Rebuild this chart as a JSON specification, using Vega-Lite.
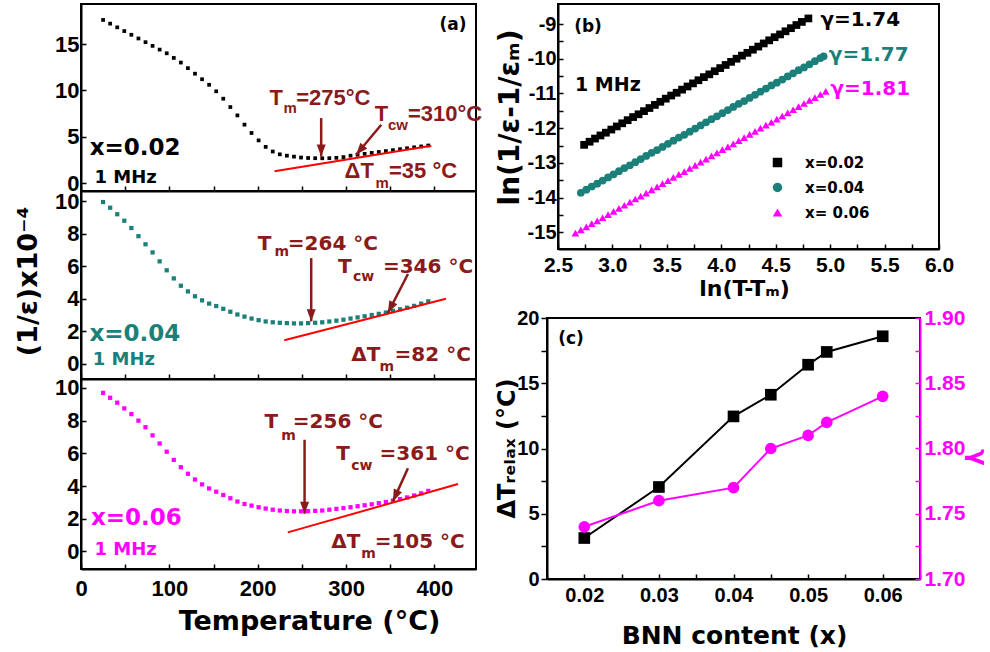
{
  "$schema": "https://vega.github.io/schema/vega-lite/v6.json",
  "background": "white",
  "padding": {"left": 12, "top": 3, "right": 5, "bottom": 5},
  "spacing": 10,
  "hconcat": [
    {
      "bounds": "flush",
      "spacing": 0,
      "vconcat": [
        {
          "width": 395, "height": 187,
          "encoding": {
            "x": {"field": "T", "type": "quantitative", "scale": {"domain": [0, 447], "nice": false, "zero": false},
                  "axis": {"values": [0, 50, 100, 150, 200, 250, 300, 350, 400], "labels": false, "tickSize": -5, "title": null}},
            "y": {"field": "v", "type": "quantitative", "scale": {"domain": [-0.86, 19.32], "nice": false, "zero": false},
                  "axis": {"values": [0, 5, 10, 15], "tickSize": -5, "labelPadding": 7, "labelFontSize": 22, "title": null}}
          },
          "layer": [
            {"data": {"values": [
              {"T":25,"v":17.6},{"T":33,"v":17.2},{"T":41,"v":16.8},{"T":49,"v":16.4},{"T":57,"v":16.0},{"T":65,"v":15.6},{"T":73,"v":15.2},{"T":81,"v":14.8},{"T":89,"v":14.4},{"T":97,"v":14.0},{"T":105,"v":13.5},{"T":113,"v":13.0},{"T":121,"v":12.4},{"T":129,"v":11.8},{"T":137,"v":11.2},{"T":145,"v":10.6},{"T":153,"v":9.9},{"T":161,"v":9.1},{"T":169,"v":8.2},{"T":177,"v":7.3},{"T":185,"v":6.3},{"T":193,"v":5.4},{"T":201,"v":4.6},{"T":209,"v":3.9},{"T":217,"v":3.4},{"T":225,"v":3.1},{"T":233,"v":2.95},{"T":241,"v":2.85},{"T":249,"v":2.75},{"T":257,"v":2.7},{"T":265,"v":2.68},{"T":273,"v":2.67},{"T":281,"v":2.68},{"T":289,"v":2.72},{"T":297,"v":2.8},{"T":305,"v":2.95},{"T":313,"v":3.05},{"T":321,"v":3.15},{"T":329,"v":3.25},{"T":337,"v":3.35},{"T":345,"v":3.45},{"T":353,"v":3.55},{"T":361,"v":3.65},{"T":369,"v":3.75},{"T":377,"v":3.85},{"T":385,"v":3.95},{"T":393,"v":4.05}
            ]},
             "mark": {"type": "point", "shape": "square", "filled": true, "size": 14, "color": "#000000", "opacity": 1}},
            {"data": {"values": [{"T": 219, "v": 1.26, "T2": 396.4, "v2": 4.03}]},
             "mark": {"type": "rule", "color": "#ff0000", "strokeWidth": 2},
             "encoding": {"x2": {"field": "T2"}, "y2": {"field": "v2"}}},
            {"data": {"name": "arrTop"},
             "mark": {"type": "rule", "color": "#8b1a1a", "strokeWidth": 2.5},
             "encoding": {"x2": {"field": "T2"}, "y2": {"field": "v2"}}},
            {"data": {"name": "arrTop"}, "transform": [{"filter": "datum.kind=='Tm'"}],
             "mark": {"type": "point", "shape": "M-0.75,-1L0.75,-1L0,1Z", "size": 144, "filled": true, "color": "#8b1a1a", "opacity": 1, "yOffset": -6}},
            {"data": {"name": "arrTop"}, "transform": [{"filter": "datum.kind=='Tcw'"}],
             "mark": {"type": "point", "shape": "M-0.75,-1L0.75,-1L0,1Z", "size": 144, "filled": true, "color": "#8b1a1a", "opacity": 1, "angle": 40, "xOffset": 3.8, "yOffset": -4.6}},
            {"data": {"name": "txtTop"}, "transform": [{"filter": "datum.role=='main'"}],
             "mark": {"type": "text", "align": "left", "baseline": "alphabetic", "font": "Liberation Sans", "fontSize": 22, "color": "#8b1a1a"},
             "encoding": {"text": {"field": "label"}}},
            {"data": {"name": "txtTop"}, "transform": [{"filter": "datum.role=='sub'"}],
             "mark": {"type": "text", "align": "left", "baseline": "alphabetic", "font": "Liberation Sans", "fontSize": 15, "color": "#8b1a1a"},
             "encoding": {"text": {"field": "label"}}},
            {"data": {"name": "txtTop"}, "transform": [{"filter": "datum.role=='label'"}],
             "mark": {"type": "text", "align": "left", "baseline": "alphabetic", "fontSize": 23, "color": "#000000"},
             "encoding": {"text": {"field": "label"}}},
            {"data": {"name": "txtTop"}, "transform": [{"filter": "datum.role=='freq'"}],
             "mark": {"type": "text", "align": "left", "baseline": "alphabetic", "fontSize": 18, "color": "#000000"},
             "encoding": {"text": {"field": "label"}}},
            {"data": {"name": "txtTop"}, "transform": [{"filter": "datum.role=='panel'"}],
             "mark": {"type": "text", "align": "center", "baseline": "middle", "fontSize": 17, "color": "#000000"},
             "encoding": {"text": {"field": "label"}}}
          ]
        },
        {
          "width": 395, "height": 188,
          "encoding": {
            "x": {"field": "T", "type": "quantitative", "scale": {"domain": [0, 447], "nice": false, "zero": false},
                  "axis": {"values": [0, 50, 100, 150, 200, 250, 300, 350, 400], "labels": false, "tickSize": -5, "title": null}},
            "y": {"field": "v", "type": "quantitative", "scale": {"domain": [-0.94, 10.63], "nice": false, "zero": false},
                  "axis": {"values": [0, 2, 4, 6, 8, 10], "tickSize": -5, "labelPadding": 7, "labelFontSize": 22,
                           "title": "(1/ε)x10⁻⁴", "titleFontSize": 27, "titleX": -53, "titleY": 90, "titleAngle": -90, "titleAlign": "center", "titleBaseline": "middle"}}
          },
          "layer": [
            {"data": {"values": [
              {"T":25,"v":9.95},{"T":33,"v":9.6},{"T":41,"v":9.2},{"T":49,"v":8.8},{"T":57,"v":8.35},{"T":65,"v":7.85},{"T":73,"v":7.35},{"T":81,"v":6.85},{"T":89,"v":6.3},{"T":97,"v":5.75},{"T":105,"v":5.25},{"T":113,"v":4.8},{"T":121,"v":4.45},{"T":129,"v":4.15},{"T":137,"v":3.9},{"T":145,"v":3.7},{"T":153,"v":3.55},{"T":161,"v":3.38},{"T":169,"v":3.2},{"T":177,"v":3.03},{"T":185,"v":2.9},{"T":193,"v":2.78},{"T":201,"v":2.68},{"T":209,"v":2.6},{"T":217,"v":2.55},{"T":225,"v":2.52},{"T":233,"v":2.5},{"T":241,"v":2.48},{"T":249,"v":2.48},{"T":257,"v":2.5},{"T":265,"v":2.52},{"T":273,"v":2.55},{"T":281,"v":2.6},{"T":289,"v":2.65},{"T":297,"v":2.71},{"T":305,"v":2.78},{"T":313,"v":2.85},{"T":321,"v":2.92},{"T":329,"v":3.0},{"T":337,"v":3.07},{"T":345,"v":3.15},{"T":353,"v":3.25},{"T":361,"v":3.35},{"T":369,"v":3.45},{"T":377,"v":3.56},{"T":385,"v":3.7},{"T":393,"v":3.84}
            ]},
             "mark": {"type": "point", "shape": "square", "filled": true, "size": 18, "color": "#1b7f7a", "opacity": 1}},
            {"data": {"values": [{"T": 230, "v": 1.44, "T2": 413, "v2": 4.0}]},
             "mark": {"type": "rule", "color": "#ff0000", "strokeWidth": 2},
             "encoding": {"x2": {"field": "T2"}, "y2": {"field": "v2"}}},
            {"data": {"name": "arrMid"},
             "mark": {"type": "rule", "color": "#8b1a1a", "strokeWidth": 2.5},
             "encoding": {"x2": {"field": "T2"}, "y2": {"field": "v2"}}},
            {"data": {"name": "arrMid"}, "transform": [{"filter": "datum.kind=='Tm'"}],
             "mark": {"type": "point", "shape": "M-0.75,-1L0.75,-1L0,1Z", "size": 144, "filled": true, "color": "#8b1a1a", "opacity": 1, "yOffset": -6}},
            {"data": {"name": "arrMid"}, "transform": [{"filter": "datum.kind=='Tcw'"}],
             "mark": {"type": "point", "shape": "M-0.75,-1L0.75,-1L0,1Z", "size": 144, "filled": true, "color": "#8b1a1a", "opacity": 1, "angle": 27, "xOffset": 2.7, "yOffset": -5.4}},
            {"data": {"name": "txtMid"}, "transform": [{"filter": "datum.role=='main'"}],
             "mark": {"type": "text", "align": "left", "baseline": "alphabetic", "fontSize": 20, "color": "#8b1a1a"},
             "encoding": {"text": {"field": "label"}}},
            {"data": {"name": "txtMid"}, "transform": [{"filter": "datum.role=='sub'"}],
             "mark": {"type": "text", "align": "left", "baseline": "alphabetic", "fontSize": 14, "color": "#8b1a1a"},
             "encoding": {"text": {"field": "label"}}},
            {"data": {"name": "txtMid"}, "transform": [{"filter": "datum.role=='label'"}],
             "mark": {"type": "text", "align": "left", "baseline": "alphabetic", "fontSize": 23, "color": "#1b7f7a"},
             "encoding": {"text": {"field": "label"}}},
            {"data": {"name": "txtMid"}, "transform": [{"filter": "datum.role=='freq'"}],
             "mark": {"type": "text", "align": "left", "baseline": "alphabetic", "fontSize": 18, "color": "#1b7f7a"},
             "encoding": {"text": {"field": "label"}}}
          ]
        },
        {
          "width": 395, "height": 190,
          "encoding": {
            "x": {"field": "T", "type": "quantitative", "scale": {"domain": [0, 447], "nice": false, "zero": false},
                  "axis": {"values": [0, 50, 100, 150, 200, 250, 300, 350, 400], "labelExpr": "datum.value%100==0 ? ''+datum.value : ''",
                           "tickSize": -5, "labelPadding": 14, "labelFontSize": 22,
                           "title": "Temperature (°C)", "titleFontSize": 27, "titleX": 228, "titleY": 60, "titleAlign": "center", "titleBaseline": "alphabetic"}},
            "y": {"field": "v", "type": "quantitative", "scale": {"domain": [-1.08, 10.55], "nice": false, "zero": false},
                  "axis": {"values": [0, 2, 4, 6, 8, 10], "tickSize": -5, "labelPadding": 7, "labelFontSize": 22, "title": null}}
          },
          "layer": [
            {"data": {"values": [
              {"T":25,"v":9.7},{"T":33,"v":9.4},{"T":41,"v":9.1},{"T":49,"v":8.75},{"T":57,"v":8.4},{"T":65,"v":8.0},{"T":73,"v":7.6},{"T":81,"v":7.1},{"T":89,"v":6.6},{"T":97,"v":6.1},{"T":105,"v":5.6},{"T":113,"v":5.15},{"T":121,"v":4.75},{"T":129,"v":4.4},{"T":137,"v":4.1},{"T":145,"v":3.85},{"T":153,"v":3.65},{"T":161,"v":3.45},{"T":169,"v":3.25},{"T":177,"v":3.05},{"T":185,"v":2.9},{"T":193,"v":2.8},{"T":201,"v":2.7},{"T":209,"v":2.62},{"T":217,"v":2.55},{"T":225,"v":2.5},{"T":233,"v":2.47},{"T":241,"v":2.45},{"T":249,"v":2.45},{"T":257,"v":2.46},{"T":265,"v":2.48},{"T":273,"v":2.5},{"T":281,"v":2.55},{"T":289,"v":2.6},{"T":297,"v":2.65},{"T":305,"v":2.7},{"T":313,"v":2.76},{"T":321,"v":2.82},{"T":329,"v":2.88},{"T":337,"v":2.95},{"T":345,"v":3.02},{"T":353,"v":3.1},{"T":361,"v":3.2},{"T":369,"v":3.3},{"T":377,"v":3.42},{"T":385,"v":3.55},{"T":393,"v":3.7}
            ]},
             "mark": {"type": "point", "shape": "square", "filled": true, "size": 18, "color": "#ff00ff", "opacity": 1}},
            {"data": {"values": [{"T": 234, "v": 1.16, "T2": 426.6, "v2": 4.12}]},
             "mark": {"type": "rule", "color": "#ff0000", "strokeWidth": 2},
             "encoding": {"x2": {"field": "T2"}, "y2": {"field": "v2"}}},
            {"data": {"name": "arrBot"},
             "mark": {"type": "rule", "color": "#8b1a1a", "strokeWidth": 2.5},
             "encoding": {"x2": {"field": "T2"}, "y2": {"field": "v2"}}},
            {"data": {"name": "arrBot"}, "transform": [{"filter": "datum.kind=='Tm'"}],
             "mark": {"type": "point", "shape": "M-0.75,-1L0.75,-1L0,1Z", "size": 144, "filled": true, "color": "#8b1a1a", "opacity": 1, "yOffset": -6}},
            {"data": {"name": "arrBot"}, "transform": [{"filter": "datum.kind=='Tcw'"}],
             "mark": {"type": "point", "shape": "M-0.75,-1L0.75,-1L0,1Z", "size": 144, "filled": true, "color": "#8b1a1a", "opacity": 1, "angle": 24, "xOffset": 2.5, "yOffset": -5.5}},
            {"data": {"name": "txtBot"}, "transform": [{"filter": "datum.role=='main'"}],
             "mark": {"type": "text", "align": "left", "baseline": "alphabetic", "fontSize": 20, "color": "#8b1a1a"},
             "encoding": {"text": {"field": "label"}}},
            {"data": {"name": "txtBot"}, "transform": [{"filter": "datum.role=='sub'"}],
             "mark": {"type": "text", "align": "left", "baseline": "alphabetic", "fontSize": 14, "color": "#8b1a1a"},
             "encoding": {"text": {"field": "label"}}},
            {"data": {"name": "txtBot"}, "transform": [{"filter": "datum.role=='label'"}],
             "mark": {"type": "text", "align": "left", "baseline": "alphabetic", "fontSize": 23, "color": "#ff00ff"},
             "encoding": {"text": {"field": "label"}}},
            {"data": {"name": "txtBot"}, "transform": [{"filter": "datum.role=='freq'"}],
             "mark": {"type": "text", "align": "left", "baseline": "alphabetic", "fontSize": 18, "color": "#ff00ff"},
             "encoding": {"text": {"field": "label"}}}
          ]
        }
      ]
    },
    {
      "spacing": 6,
      "vconcat": [
        {
          "bounds": "flush",
          "spacing": 10,
          "hconcat": [
            {"width": 1, "height": 245, "data": {"values": [{"a": 0}]}, "mark": {"type": "point", "opacity": 0}, "encoding": {}, "view": {"stroke": null}},
            {
              "width": 381, "height": 245,
              "encoding": {
                "x": {"field": "x", "type": "quantitative", "scale": {"domain": [2.5, 6.0], "nice": false, "zero": false},
                      "axis": {"values": [2.5, 2.75, 3.0, 3.25, 3.5, 3.75, 4.0, 4.25, 4.5, 4.75, 5.0, 5.25, 5.5, 5.75, 6.0],
                               "labelExpr": "(datum.value*2)%1==0 ? format(datum.value,'.1f') : ''",
                               "tickSize": -5, "labelPadding": 10, "labelFontSize": 21,
                               "title": "ln(T-Tₘ)", "titleFontSize": 22, "titleX": 186, "titleY": 46, "titleAlign": "center", "titleBaseline": "alphabetic"}},
                "y": {"field": "y", "type": "quantitative", "scale": {"domain": [-15.48, -8.424], "nice": false, "zero": false},
                      "axis": {"values": [-15, -14.5, -14, -13.5, -13, -12.5, -12, -11.5, -11, -10.5, -10, -9.5, -9],
                               "labelExpr": "datum.value%1==0 ? ''+datum.value : ''",
                               "tickSize": -5, "labelPadding": 7, "labelFontSize": 20,
                               "title": "ln(1/ε-1/εₘ)", "titleFontSize": 28, "titleX": -48, "titleY": 113, "titleAngle": -90, "titleAlign": "center", "titleBaseline": "middle"}}
              },
              "layer": [
                {"data": {"name": "bData"},
                 "mark": {"type": "point", "filled": true, "size": 60, "opacity": 1},
                 "encoding": {
                   "color": {"field": "s", "type": "nominal", "scale": {"domain": ["x=0.02", "x=0.04", "x= 0.06"], "range": ["#000000", "#1b7f7a", "#ff00ff"]},
                             "legend": {"orient": "none", "legendX": 689, "legendY": 151, "title": null, "labelFont": "DejaVu Sans", "labelFontWeight": "bold", "labelFontSize": 15, "symbolSize": 90, "labelOffset": 20, "rowPadding": 9, "padding": 0}},
                   "shape": {"field": "s", "type": "nominal", "scale": {"domain": ["x=0.02", "x=0.04", "x= 0.06"], "range": ["square", "circle", "triangle-up"]},
                             "legend": {"orient": "none", "legendX": 689, "legendY": 151, "title": null, "labelFont": "DejaVu Sans", "labelFontWeight": "bold", "labelFontSize": 15, "symbolSize": 90, "labelOffset": 20, "rowPadding": 9, "padding": 0}}
                 }},
                {"data": {"name": "bText"}, "transform": [{"filter": "datum.role=='g1'"}],
                 "mark": {"type": "text", "align": "left", "baseline": "alphabetic", "fontSize": 20, "color": "#000000"},
                 "encoding": {"text": {"field": "label"}}},
                {"data": {"name": "bText"}, "transform": [{"filter": "datum.role=='g2'"}],
                 "mark": {"type": "text", "align": "left", "baseline": "alphabetic", "fontSize": 20, "color": "#1b7f7a"},
                 "encoding": {"text": {"field": "label"}}},
                {"data": {"name": "bText"}, "transform": [{"filter": "datum.role=='g3'"}],
                 "mark": {"type": "text", "align": "left", "baseline": "alphabetic", "fontSize": 20, "color": "#ff00ff"},
                 "encoding": {"text": {"field": "label"}}},
                {"data": {"name": "bText"}, "transform": [{"filter": "datum.role=='freq'"}],
                 "mark": {"type": "text", "align": "left", "baseline": "alphabetic", "fontSize": 19, "color": "#000000"},
                 "encoding": {"text": {"field": "label"}}},
                {"data": {"name": "bText"}, "transform": [{"filter": "datum.role=='panel'"}],
                 "mark": {"type": "text", "align": "center", "baseline": "middle", "fontSize": 17, "color": "#000000"},
                 "encoding": {"text": {"field": "label"}}}
              ]
            }
          ]
        },
        {
          "width": 373, "height": 261,
          "data": {"values": [
            {"x": 0.02, "dT": 3.14, "g": 1.74},
            {"x": 0.03, "dT": 7.05, "g": 1.76},
            {"x": 0.04, "dT": 12.46, "g": 1.77},
            {"x": 0.045, "dT": 14.12, "g": 1.80},
            {"x": 0.05, "dT": 16.42, "g": 1.81},
            {"x": 0.0525, "dT": 17.4, "g": 1.82},
            {"x": 0.06, "dT": 18.6, "g": 1.84}
          ]},
          "encoding": {
            "x": {"field": "x", "type": "quantitative", "scale": {"domain": [0.015, 0.065], "nice": false, "zero": false},
                  "axis": {"values": [0.015, 0.02, 0.025, 0.03, 0.035, 0.04, 0.045, 0.05, 0.055, 0.06, 0.065],
                           "labelExpr": "round(datum.value*1000)%10==0 ? format(datum.value,'.2f') : ''",
                           "tickSize": -5, "labelPadding": 11, "labelFontSize": 20,
                           "title": "BNN content (x)", "titleFontSize": 25, "titleX": 187, "titleY": 64, "titleAlign": "center", "titleBaseline": "alphabetic"}}
          },
          "layer": [
            {
              "encoding": {
                "y": {"field": "dT", "type": "quantitative", "scale": {"domain": [0, 20], "nice": false, "zero": false},
                      "axis": {"values": [0, 2.5, 5, 7.5, 10, 12.5, 15, 17.5, 20], "labelExpr": "datum.value%5==0 ? ''+datum.value : ''",
                               "tickSize": 6, "labelPadding": 2, "labelFontSize": 20,
                               "title": "ΔTᵣₑₗₐₓ (°C)", "titleFontSize": 24, "titleX": -40, "titleY": 130, "titleAngle": -90, "titleAlign": "center", "titleBaseline": "middle"}}
              },
              "layer": [
                {"mark": {"type": "line", "color": "#000000", "strokeWidth": 2}},
                {"mark": {"type": "point", "shape": "square", "filled": true, "size": 136, "color": "#000000", "opacity": 1}},
                {"data": {"values": [{"x": 0.01822, "dT": 18.41, "label": "(c)"}]},
                 "mark": {"type": "text", "align": "center", "baseline": "middle", "fontSize": 17, "color": "#000000"},
                 "encoding": {"text": {"field": "label"}}}
              ]
            },
            {
              "encoding": {
                "y": {"field": "g", "type": "quantitative", "scale": {"domain": [1.7, 1.9], "nice": false, "zero": false},
                      "axis": {"orient": "right", "values": [1.7, 1.725, 1.75, 1.775, 1.8, 1.825, 1.85, 1.875, 1.9],
                               "labelExpr": "round(datum.value*1000)%50==0 ? format(datum.value,'.2f') : ''",
                               "tickSize": -5, "labelPadding": 9, "labelFontSize": 21, "labelColor": "#ff00ff", "domainColor": "#ff00ff", "tickColor": "#ff00ff",
                               "title": "γ", "titleColor": "#ff00ff", "titleFontSize": 24, "titleX": 56, "titleY": 139, "titleAngle": 90, "titleAlign": "center", "titleBaseline": "middle"}}
              },
              "layer": [
                {"mark": {"type": "line", "color": "#ff00ff", "strokeWidth": 2}},
                {"mark": {"type": "point", "shape": "circle", "filled": true, "size": 136, "color": "#ff00ff", "opacity": 1}}
              ]
            }
          ],
          "resolve": {"scale": {"y": "independent"}}
        }
      ]
    }
  ],
  "datasets": {
    "arrTop": [
      {"kind": "Tm", "T": 271.8, "v": 2.85, "T2": 271.8, "v2": 7.01},
      {"kind": "Tcw", "T": 311.4, "v": 3.05, "T2": 339.8, "v2": 6.29}
    ],
    "arrMid": [
      {"kind": "Tm", "T": 260.5, "v": 2.61, "T2": 260.5, "v2": 6.5},
      {"kind": "Tcw", "T": 347.3, "v": 3.12, "T2": 370, "v2": 5.52}
    ],
    "arrBot": [
      {"kind": "Tm", "T": 253, "v": 2.3, "T2": 253, "v2": 6.83},
      {"kind": "Tcw", "T": 353, "v": 3.06, "T2": 370, "v2": 5.09}
    ],
    "txtTop": [
      {"role": "main", "T": 213.4, "v": 8.45, "label": "T"},
      {"role": "sub", "T": 229.2, "v": 7.55, "label": "m"},
      {"role": "main", "T": 243.5, "v": 8.45, "label": "=275°C"},
      {"role": "main", "T": 332.3, "v": 6.66, "label": "T"},
      {"role": "sub", "T": 347.3, "v": 5.75, "label": "cw"},
      {"role": "main", "T": 370, "v": 6.66, "label": "=310°C"},
      {"role": "main", "T": 298.3, "v": 0.54, "label": "ΔT"},
      {"role": "sub", "T": 333.4, "v": -0.54, "label": "m"},
      {"role": "main", "T": 348.5, "v": 0.54, "label": "=35 °C"},
      {"role": "label", "T": 9.9, "v": 3.05, "label": "x=0.02"},
      {"role": "freq", "T": 15.2, "v": 0.0, "label": "1 MHz"},
      {"role": "panel", "T": 421, "v": 17.08, "label": "(a)"}
    ],
    "txtMid": [
      {"role": "main", "T": 200.1, "v": 7.02, "label": "T"},
      {"role": "sub", "T": 219.0, "v": 6.61, "label": "m"},
      {"role": "main", "T": 234.1, "v": 7.02, "label": "=264 °C"},
      {"role": "main", "T": 290.7, "v": 5.58, "label": "T"},
      {"role": "sub", "T": 307.7, "v": 5.07, "label": "cw"},
      {"role": "main", "T": 341.7, "v": 5.58, "label": "=346 °C"},
      {"role": "main", "T": 305.8, "v": 0.15, "label": "ΔT"},
      {"role": "sub", "T": 337.9, "v": -0.43, "label": "m"},
      {"role": "main", "T": 354.9, "v": 0.15, "label": "=82 °C"},
      {"role": "label", "T": 9.5, "v": 1.38, "label": "x=0.04"},
      {"role": "freq", "T": 13.3, "v": -0.06, "label": "1 MHz"}
    ],
    "txtBot": [
      {"role": "main", "T": 207.7, "v": 7.54, "label": "T"},
      {"role": "sub", "T": 226.5, "v": 6.83, "label": "m"},
      {"role": "main", "T": 239.7, "v": 7.54, "label": "=256 °C"},
      {"role": "main", "T": 288.8, "v": 5.60, "label": "T"},
      {"role": "sub", "T": 305.8, "v": 4.99, "label": "cw"},
      {"role": "main", "T": 337.9, "v": 5.60, "label": "=361 °C"},
      {"role": "main", "T": 283.1, "v": 0.20, "label": "ΔT"},
      {"role": "sub", "T": 317.1, "v": -0.41, "label": "m"},
      {"role": "main", "T": 332.3, "v": 0.20, "label": "=105 °C"},
      {"role": "label", "T": 11.3, "v": 1.63, "label": "x=0.06"},
      {"role": "freq", "T": 15.2, "v": -0.21, "label": "1 MHz"}
    ],
    "bText": [
      {"role": "g1", "x": 4.911, "y": -9.07, "label": "γ=1.74"},
      {"role": "g2", "x": 4.988, "y": -10.07, "label": "γ=1.77"},
      {"role": "g3", "x": 5.003, "y": -11.04, "label": "γ=1.81"},
      {"role": "freq", "x": 2.656, "y": -10.94, "label": "1 MHz"},
      {"role": "panel", "x": 2.776, "y": -9.09, "label": "(b)"}
    ],
    "bData": [
      {"s":"x=0.02","x":2.74,"y":-12.48},{"s":"x=0.02","x":2.79,"y":-12.39},{"s":"x=0.02","x":2.84,"y":-12.30},{"s":"x=0.02","x":2.89,"y":-12.21},{"s":"x=0.02","x":2.94,"y":-12.13},{"s":"x=0.02","x":2.99,"y":-12.04},{"s":"x=0.02","x":3.04,"y":-11.95},{"s":"x=0.02","x":3.09,"y":-11.86},{"s":"x=0.02","x":3.14,"y":-11.77},{"s":"x=0.02","x":3.19,"y":-11.68},{"s":"x=0.02","x":3.24,"y":-11.60},{"s":"x=0.02","x":3.29,"y":-11.51},{"s":"x=0.02","x":3.34,"y":-11.42},{"s":"x=0.02","x":3.39,"y":-11.33},{"s":"x=0.02","x":3.44,"y":-11.24},{"s":"x=0.02","x":3.49,"y":-11.15},{"s":"x=0.02","x":3.54,"y":-11.06},{"s":"x=0.02","x":3.59,"y":-10.98},{"s":"x=0.02","x":3.64,"y":-10.89},{"s":"x=0.02","x":3.69,"y":-10.80},{"s":"x=0.02","x":3.74,"y":-10.71},{"s":"x=0.02","x":3.79,"y":-10.62},{"s":"x=0.02","x":3.84,"y":-10.53},{"s":"x=0.02","x":3.89,"y":-10.45},{"s":"x=0.02","x":3.94,"y":-10.36},{"s":"x=0.02","x":3.99,"y":-10.27},{"s":"x=0.02","x":4.04,"y":-10.18},{"s":"x=0.02","x":4.09,"y":-10.09},{"s":"x=0.02","x":4.14,"y":-10.00},{"s":"x=0.02","x":4.19,"y":-9.91},{"s":"x=0.02","x":4.24,"y":-9.83},{"s":"x=0.02","x":4.29,"y":-9.74},{"s":"x=0.02","x":4.34,"y":-9.65},{"s":"x=0.02","x":4.39,"y":-9.56},{"s":"x=0.02","x":4.44,"y":-9.47},{"s":"x=0.02","x":4.49,"y":-9.38},{"s":"x=0.02","x":4.54,"y":-9.30},{"s":"x=0.02","x":4.59,"y":-9.21},{"s":"x=0.02","x":4.64,"y":-9.12},{"s":"x=0.02","x":4.69,"y":-9.03},{"s":"x=0.02","x":4.74,"y":-8.94},{"s":"x=0.02","x":4.80,"y":-8.84},
      {"s":"x=0.04","x":2.71,"y":-13.86},{"s":"x=0.04","x":2.76,"y":-13.77},{"s":"x=0.04","x":2.81,"y":-13.68},{"s":"x=0.04","x":2.86,"y":-13.60},{"s":"x=0.04","x":2.91,"y":-13.51},{"s":"x=0.04","x":2.96,"y":-13.42},{"s":"x=0.04","x":3.01,"y":-13.33},{"s":"x=0.04","x":3.06,"y":-13.24},{"s":"x=0.04","x":3.11,"y":-13.15},{"s":"x=0.04","x":3.16,"y":-13.07},{"s":"x=0.04","x":3.21,"y":-12.98},{"s":"x=0.04","x":3.26,"y":-12.89},{"s":"x=0.04","x":3.31,"y":-12.80},{"s":"x=0.04","x":3.36,"y":-12.71},{"s":"x=0.04","x":3.41,"y":-12.63},{"s":"x=0.04","x":3.46,"y":-12.54},{"s":"x=0.04","x":3.51,"y":-12.45},{"s":"x=0.04","x":3.56,"y":-12.36},{"s":"x=0.04","x":3.61,"y":-12.27},{"s":"x=0.04","x":3.66,"y":-12.19},{"s":"x=0.04","x":3.71,"y":-12.10},{"s":"x=0.04","x":3.76,"y":-12.01},{"s":"x=0.04","x":3.81,"y":-11.92},{"s":"x=0.04","x":3.86,"y":-11.83},{"s":"x=0.04","x":3.91,"y":-11.74},{"s":"x=0.04","x":3.96,"y":-11.66},{"s":"x=0.04","x":4.01,"y":-11.57},{"s":"x=0.04","x":4.06,"y":-11.48},{"s":"x=0.04","x":4.11,"y":-11.39},{"s":"x=0.04","x":4.16,"y":-11.30},{"s":"x=0.04","x":4.21,"y":-11.22},{"s":"x=0.04","x":4.26,"y":-11.13},{"s":"x=0.04","x":4.31,"y":-11.04},{"s":"x=0.04","x":4.36,"y":-10.95},{"s":"x=0.04","x":4.41,"y":-10.86},{"s":"x=0.04","x":4.46,"y":-10.77},{"s":"x=0.04","x":4.51,"y":-10.69},{"s":"x=0.04","x":4.56,"y":-10.60},{"s":"x=0.04","x":4.61,"y":-10.51},{"s":"x=0.04","x":4.66,"y":-10.42},{"s":"x=0.04","x":4.71,"y":-10.33},{"s":"x=0.04","x":4.76,"y":-10.25},{"s":"x=0.04","x":4.81,"y":-10.16},{"s":"x=0.04","x":4.86,"y":-10.07},{"s":"x=0.04","x":4.91,"y":-9.98},{"s":"x=0.04","x":4.94,"y":-9.93},
      {"s":"x= 0.06","x":2.66,"y":-15.02},{"s":"x= 0.06","x":2.71,"y":-14.93},{"s":"x= 0.06","x":2.76,"y":-14.84},{"s":"x= 0.06","x":2.81,"y":-14.75},{"s":"x= 0.06","x":2.86,"y":-14.67},{"s":"x= 0.06","x":2.91,"y":-14.58},{"s":"x= 0.06","x":2.96,"y":-14.49},{"s":"x= 0.06","x":3.01,"y":-14.40},{"s":"x= 0.06","x":3.06,"y":-14.31},{"s":"x= 0.06","x":3.11,"y":-14.22},{"s":"x= 0.06","x":3.16,"y":-14.13},{"s":"x= 0.06","x":3.21,"y":-14.04},{"s":"x= 0.06","x":3.26,"y":-13.96},{"s":"x= 0.06","x":3.31,"y":-13.87},{"s":"x= 0.06","x":3.36,"y":-13.78},{"s":"x= 0.06","x":3.41,"y":-13.69},{"s":"x= 0.06","x":3.46,"y":-13.60},{"s":"x= 0.06","x":3.51,"y":-13.51},{"s":"x= 0.06","x":3.56,"y":-13.42},{"s":"x= 0.06","x":3.61,"y":-13.33},{"s":"x= 0.06","x":3.66,"y":-13.25},{"s":"x= 0.06","x":3.71,"y":-13.16},{"s":"x= 0.06","x":3.76,"y":-13.07},{"s":"x= 0.06","x":3.81,"y":-12.98},{"s":"x= 0.06","x":3.86,"y":-12.89},{"s":"x= 0.06","x":3.91,"y":-12.80},{"s":"x= 0.06","x":3.96,"y":-12.71},{"s":"x= 0.06","x":4.01,"y":-12.62},{"s":"x= 0.06","x":4.06,"y":-12.54},{"s":"x= 0.06","x":4.11,"y":-12.45},{"s":"x= 0.06","x":4.16,"y":-12.36},{"s":"x= 0.06","x":4.21,"y":-12.27},{"s":"x= 0.06","x":4.26,"y":-12.18},{"s":"x= 0.06","x":4.31,"y":-12.09},{"s":"x= 0.06","x":4.36,"y":-12.00},{"s":"x= 0.06","x":4.41,"y":-11.91},{"s":"x= 0.06","x":4.46,"y":-11.83},{"s":"x= 0.06","x":4.51,"y":-11.74},{"s":"x= 0.06","x":4.56,"y":-11.65},{"s":"x= 0.06","x":4.61,"y":-11.56},{"s":"x= 0.06","x":4.66,"y":-11.47},{"s":"x= 0.06","x":4.71,"y":-11.38},{"s":"x= 0.06","x":4.76,"y":-11.29},{"s":"x= 0.06","x":4.81,"y":-11.20},{"s":"x= 0.06","x":4.86,"y":-11.12},{"s":"x= 0.06","x":4.91,"y":-11.03},{"s":"x= 0.06","x":4.96,"y":-10.94}
    ]
  },
  "config": {
    "view": {"stroke": "#000000", "strokeWidth": 2},
    "axis": {"labelFont": "Liberation Sans", "labelFontWeight": "bold", "labelColor": "#000000", "domainColor": "#000000", "domainWidth": 2,
             "tickColor": "#000000", "tickWidth": 1.5, "grid": false, "titleFont": "DejaVu Sans", "titleFontWeight": "bold", "titleColor": "#000000",
             "labelFlush": false, "labelOverlap": false},
    "text": {"font": "DejaVu Sans", "fontWeight": "bold"}
  }
}
